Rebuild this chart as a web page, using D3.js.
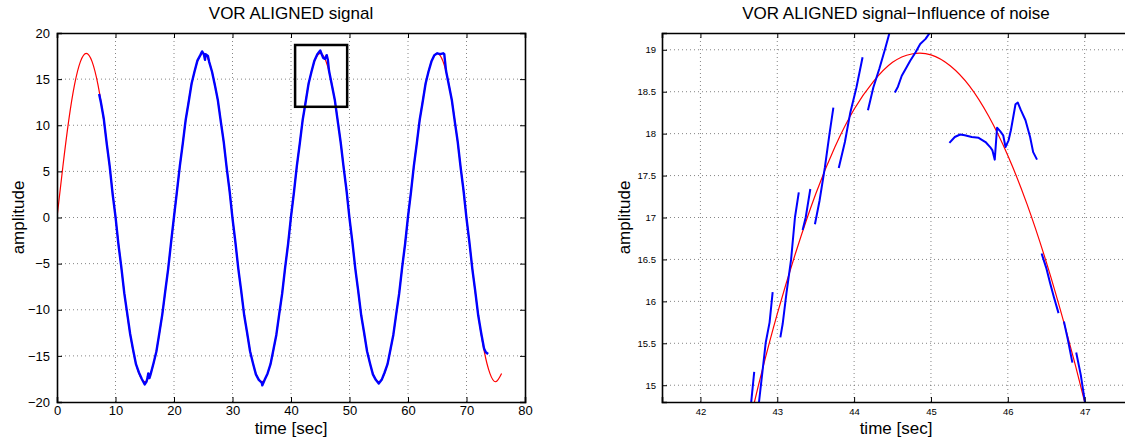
<!DOCTYPE html>
<html>
<head>
<meta charset="utf-8">
<script src="https://cdn.jsdelivr.net/npm/d3@7"></script>
<style>
  body { margin: 0; background: #fff; }
  svg { display: block; font-family: "Liberation Sans", Arial, sans-serif; }
</style>
</head>
<body>
<svg id="chart" width="1125" height="438"></svg>
<script>
// ---- data ----
// left: reference sine (red), one sample per second from t = 0 to 76
var redLeft = [0, 5.5, 10.5, 14.4, 16.9, 17.8, 16.9, 14.4, 10.5, 5.5,
  0, -5.5, -10.5, -14.4, -16.9, -17.8, -16.9, -14.4, -10.5, -5.5,
  0, 5.5, 10.5, 14.4, 16.9, 17.8, 16.9, 14.4, 10.5, 5.5,
  0, -5.5, -10.5, -14.4, -16.9, -17.8, -16.9, -14.4, -10.5, -5.5,
  0, 5.5, 10.5, 14.4, 16.9, 17.8, 16.9, 14.4, 10.5, 5.5,
  0, -5.5, -10.5, -14.4, -16.9, -17.8, -16.9, -14.4, -10.5, -5.5,
  0, 5.5, 10.5, 14.4, 16.9, 17.8, 16.9, 14.4, 10.5, 5.5,
  0, -5.5, -10.5, -14.4, -16.9, -17.8, -16.9];

// left: measured signal (blue), [time, amplitude]
var blueLeft = [[7.2, 13.4], [7.5, 12.5], [8.0, 10.7], [8.5, 8.0], [9.0, 5.6], [9.5, 2.6],
  [10.0, 0.1], [10.5, -2.9], [11.0, -5.4], [11.5, -8.2], [12.0, -10.4], [12.5, -12.6],
  [13.0, -14.3], [13.5, -15.9], [14.0, -16.8], [14.5, -17.5], [15.0, -18.1], [15.3, -17.8],
  [15.5, -17.3], [15.6, -16.9], [15.8, -17.4], [16.0, -17.0], [16.5, -15.8], [17.0, -14.5],
  [17.5, -12.5], [18.0, -10.5], [18.5, -8.0], [19.0, -5.6], [19.5, -2.7], [20.0, 0.1],
  [20.5, 2.8], [21.0, 5.6], [21.5, 8.0], [22.0, 10.6], [22.5, 12.5], [23.0, 14.5],
  [23.5, 15.8], [24.0, 17.0], [24.5, 17.6], [24.8, 18.0], [25.1, 17.7], [25.3, 17.1],
  [25.4, 17.7], [25.8, 17.5], [26.0, 16.9], [26.5, 15.8], [27.0, 14.3], [27.5, 12.7],
  [28.0, 10.4], [28.5, 8.2], [29.0, 5.4], [29.5, 2.9], [30.0, -0.1], [30.5, -2.7],
  [31.0, -5.6], [31.5, -8.0], [32.0, -10.6], [32.5, -12.5], [33.0, -14.5], [33.5, -15.8],
  [34.0, -17.0], [34.5, -17.6], [35.0, -17.9], [35.1, -18.2], [35.5, -17.6], [36.0, -16.9],
  [36.5, -15.9], [37.0, -14.3], [37.5, -12.7], [38.0, -10.4], [38.5, -8.2], [39.0, -5.4],
  [39.5, -2.9], [40.0, 0.1], [40.5, 2.7], [41.0, 5.6], [41.5, 8.0], [42.0, 10.6],
  [42.5, 12.5], [43.0, 14.5], [43.5, 15.8], [44.0, 17.0], [44.5, 17.7], [45.0, 18.1],
  [45.5, 17.3], [45.8, 17.2], [46.1, 17.6], [46.3, 17.1], [46.5, 15.9], [47.0, 14.3],
  [47.5, 12.7], [48.0, 10.4], [48.5, 8.1], [49.0, 5.4], [49.5, 2.9], [50.0, -0.1],
  [50.5, -2.7], [51.0, -5.6], [51.5, -8.0], [52.0, -10.6], [52.5, -12.5], [53.0, -14.5],
  [53.5, -15.8], [54.0, -17.0], [54.5, -17.6], [55.0, -18.0], [55.5, -17.6], [56.0, -16.8],
  [56.5, -15.9], [57.0, -14.3], [57.5, -12.7], [58.0, -10.4], [58.5, -8.2], [59.0, -5.4],
  [59.5, -2.9], [60.0, 0.1], [60.5, 2.7], [61.0, 5.6], [61.5, 8.0], [62.0, 10.6],
  [62.5, 12.5], [63.0, 14.5], [63.5, 15.8], [64.0, 16.9], [64.5, 17.6], [65.0, 17.8],
  [65.5, 17.7], [66.0, 17.8], [66.2, 17.7], [66.5, 15.9], [67.0, 14.3], [67.5, 12.7],
  [68.0, 10.4], [68.5, 8.2], [69.0, 5.4], [69.5, 2.9], [70.0, -0.1], [70.5, -2.7],
  [71.0, -5.6], [71.5, -8.0], [72.0, -10.6], [72.5, -12.5], [73.0, -14.2], [73.3, -14.6],
  [73.7, -14.8]];

// zoom box drawn on the left plot [t0, t1, v0, v1]
var zoomBox = [40.7, 49.6, 12.0, 18.7];

// right: reference sine (red), every 0.25 s from 42.5 to 47.25
var redRightT = [42.5, 42.75, 43, 43.25, 43.5, 43.75, 44, 44.25, 44.5, 44.75,
  45, 45.25, 45.5, 45.75, 46, 46.25, 46.5, 46.75, 47, 47.25];
var redRightV = [14.02, 14.98, 15.85, 16.61, 17.28, 17.84, 18.29, 18.62, 18.85, 18.95,
  18.94, 18.81, 18.57, 18.21, 17.74, 17.16, 16.47, 15.68, 14.80, 13.82];

// right: measured signal (blue), broken into pieces
var blueRight = [
  [[42.65, 14.7], [42.70, 15.16]],
  [[42.75, 14.7], [42.85, 15.51], [42.90, 15.75], [42.94, 16.11]],
  [[43.04, 15.57], [43.07, 15.73], [43.12, 16.10], [43.18, 16.50], [43.23, 17.0], [43.28, 17.30]],
  [[43.33, 16.85], [43.37, 17.0], [43.43, 17.34]],
  [[43.49, 16.92], [43.55, 17.2], [43.62, 17.6], [43.68, 18.0], [43.73, 18.31]],
  [[43.80, 17.59], [43.88, 17.9], [43.95, 18.25], [44.03, 18.55], [44.11, 18.91]],
  [[44.18, 18.28], [44.25, 18.55], [44.33, 18.78], [44.40, 19.0], [44.49, 19.3]],
  [[44.53, 18.49], [44.57, 18.56], [44.62, 18.69], [44.67, 18.77], [44.73, 18.87],
    [44.80, 18.97], [44.86, 19.07], [44.93, 19.13], [45.02, 19.25]],
  [[45.24, 17.89], [45.31, 17.96], [45.38, 17.99], [45.44, 17.98], [45.53, 17.96],
    [45.62, 17.95], [45.71, 17.90], [45.77, 17.84], [45.80, 17.80], [45.83, 17.69],
    [45.86, 18.07], [45.90, 18.03], [45.94, 17.98], [45.97, 17.84], [46.01, 17.92],
    [46.04, 18.04], [46.10, 18.35], [46.13, 18.37], [46.17, 18.28], [46.23, 18.16],
    [46.29, 17.96], [46.33, 17.78], [46.38, 17.69]],
  [[46.44, 16.57], [46.50, 16.40], [46.55, 16.22], [46.60, 16.05], [46.66, 15.86]],
  [[46.73, 15.76], [46.78, 15.55], [46.84, 15.27]],
  [[46.89, 15.39], [46.95, 15.12], [47.02, 14.7]]
];

// ticks
var leftXTicks = [0, 10, 20, 30, 40, 50, 60, 70, 80];
var leftYTicks = [-20, -15, -10, -5, 0, 5, 10, 15, 20];
var rightXTicks = [42, 43, 44, 45, 46, 47];
var rightYTicks = [15, 15.5, 16, 16.5, 17, 17.5, 18, 18.5, 19];

var svg = d3.select("#chart");

// Draws one MATLAB style axes box with grid, ticks and labels.
function makeAxes(opt) {
  var x = d3.scaleLinear().domain(opt.xDomain).range([opt.left, opt.right]);
  var y = d3.scaleLinear().domain(opt.yDomain).range([opt.bottom, opt.top]);
  var g = svg.append("g");

  g.append("clipPath").attr("id", opt.id + "-clip")
    .append("rect")
    .attr("x", opt.left).attr("y", opt.top)
    .attr("width", opt.right - opt.left).attr("height", opt.bottom - opt.top);

  // dotted grid
  var grid = g.append("g").attr("stroke", "#666").attr("stroke-width", 0.8)
    .attr("stroke-dasharray", "1,3");
  opt.xTicks.forEach(function (t) {
    if (x(t) <= opt.left + 1 || x(t) >= opt.right - 1) return;
    grid.append("line").attr("x1", x(t)).attr("x2", x(t))
      .attr("y1", opt.top).attr("y2", opt.bottom);
  });
  opt.yTicks.forEach(function (t) {
    if (y(t) >= opt.bottom - 1 || y(t) <= opt.top + 1) return;
    grid.append("line").attr("y1", y(t)).attr("y2", y(t))
      .attr("x1", opt.left).attr("x2", opt.right);
  });

  var plot = g.append("g").attr("clip-path", "url(#" + opt.id + "-clip)");

  // axes with inward ticks on all sides
  var fmt = opt.fmt || d3.format("");
  g.append("g").attr("transform", "translate(0," + opt.bottom + ")")
    .call(d3.axisBottom(x).tickValues(opt.xTicks).tickSize(-5).tickPadding(opt.xPad).tickFormat(fmt));
  g.append("g").attr("transform", "translate(0," + opt.top + ")")
    .call(d3.axisTop(x).tickValues(opt.xTicks).tickSize(-5).tickFormat(""));
  g.append("g").attr("transform", "translate(" + opt.left + ",0)")
    .call(d3.axisLeft(y).tickValues(opt.yTicks).tickSize(-5).tickPadding(opt.yPad).tickFormat(fmt));
  g.append("g").attr("transform", "translate(" + opt.right + ",0)")
    .call(d3.axisRight(y).tickValues(opt.yTicks).tickSize(-5).tickFormat(""));

  g.selectAll(".domain").attr("stroke", "#000").attr("stroke-width", 1.6);
  g.selectAll(".tick line").attr("stroke", "#000").attr("stroke-width", 1);
  g.selectAll(".tick text").attr("fill", "#000")
    .style("font-size", opt.tickFont + "px")
    .style("font-family", "'Liberation Sans', Arial, sans-serif");

  var cx = (opt.left + opt.right) / 2;
  g.append("text").attr("x", cx).attr("y", 19)
    .attr("text-anchor", "middle").style("font-size", "17px").text(opt.title);
  g.append("text").attr("x", cx).attr("y", 434)
    .attr("text-anchor", "middle").style("font-size", "17px").text("time [sec]");
  g.append("text")
    .attr("transform", "translate(" + opt.yLabelX + "," + ((opt.top + opt.bottom) / 2) + ") rotate(-90)")
    .attr("text-anchor", "middle").style("font-size", "17px").text("amplitude");

  return { x: x, y: y, plot: plot };
}

// ---- left plot ----
var L = makeAxes({
  id: "left", left: 57, right: 525, top: 33, bottom: 402,
  xDomain: [0, 80], yDomain: [-20, 20],
  xTicks: leftXTicks, yTicks: leftYTicks, tickFont: 13, xPad: 4, yPad: 7,
  fmt: function (d) { return d < 0 ? "\u2212" + Math.abs(d) : d; },
  title: "VOR ALIGNED signal", yLabelX: 24
});

var redLine = d3.line()
  .x(function (d, i) { return L.x(i); })
  .y(function (d) { return L.y(d); })
  .curve(d3.curveNatural);
L.plot.append("path").attr("d", redLine(redLeft))
  .attr("fill", "none").attr("stroke", "#ff0000").attr("stroke-width", 1.2);

var blueLine = d3.line()
  .x(function (d) { return L.x(d[0]); })
  .y(function (d) { return L.y(d[1]); });
L.plot.append("path").attr("d", blueLine(blueLeft))
  .attr("fill", "none").attr("stroke", "#0000ff").attr("stroke-width", 2.4)
  .attr("stroke-linejoin", "round");

L.plot.append("rect")
  .attr("x", L.x(zoomBox[0])).attr("y", L.y(zoomBox[3]))
  .attr("width", L.x(zoomBox[1]) - L.x(zoomBox[0]))
  .attr("height", L.y(zoomBox[2]) - L.y(zoomBox[3]))
  .attr("fill", "none").attr("stroke", "#000").attr("stroke-width", 2.5);

// ---- right plot ----
var R = makeAxes({
  id: "right", left: 662, right: 1130, top: 33, bottom: 402,
  xDomain: [41.5, 47.59], yDomain: [14.8, 19.2],
  xTicks: rightXTicks, yTicks: rightYTicks, tickFont: 9.5, xPad: 6, yPad: 6,
  title: "VOR ALIGNED signal\u2212Influence of noise", yLabelX: 630
});

var redRight = redRightT.map(function (t, i) { return [t, redRightV[i]]; });
var rLine = d3.line()
  .x(function (d) { return R.x(d[0]); })
  .y(function (d) { return R.y(d[1]); });
R.plot.append("path").attr("d", rLine.curve(d3.curveNatural)(redRight))
  .attr("fill", "none").attr("stroke", "#ff0000").attr("stroke-width", 1.2);

rLine.curve(d3.curveLinear);
R.plot.selectAll(".blue-seg")
  .data(blueRight)
  .enter()
  .append("path")
  .attr("class", "blue-seg")
  .attr("d", function (d) { return rLine(d); })
  .attr("fill", "none").attr("stroke", "#0000ff").attr("stroke-width", 2.0)
  .attr("stroke-linejoin", "round");
</script>
</body>
</html>
